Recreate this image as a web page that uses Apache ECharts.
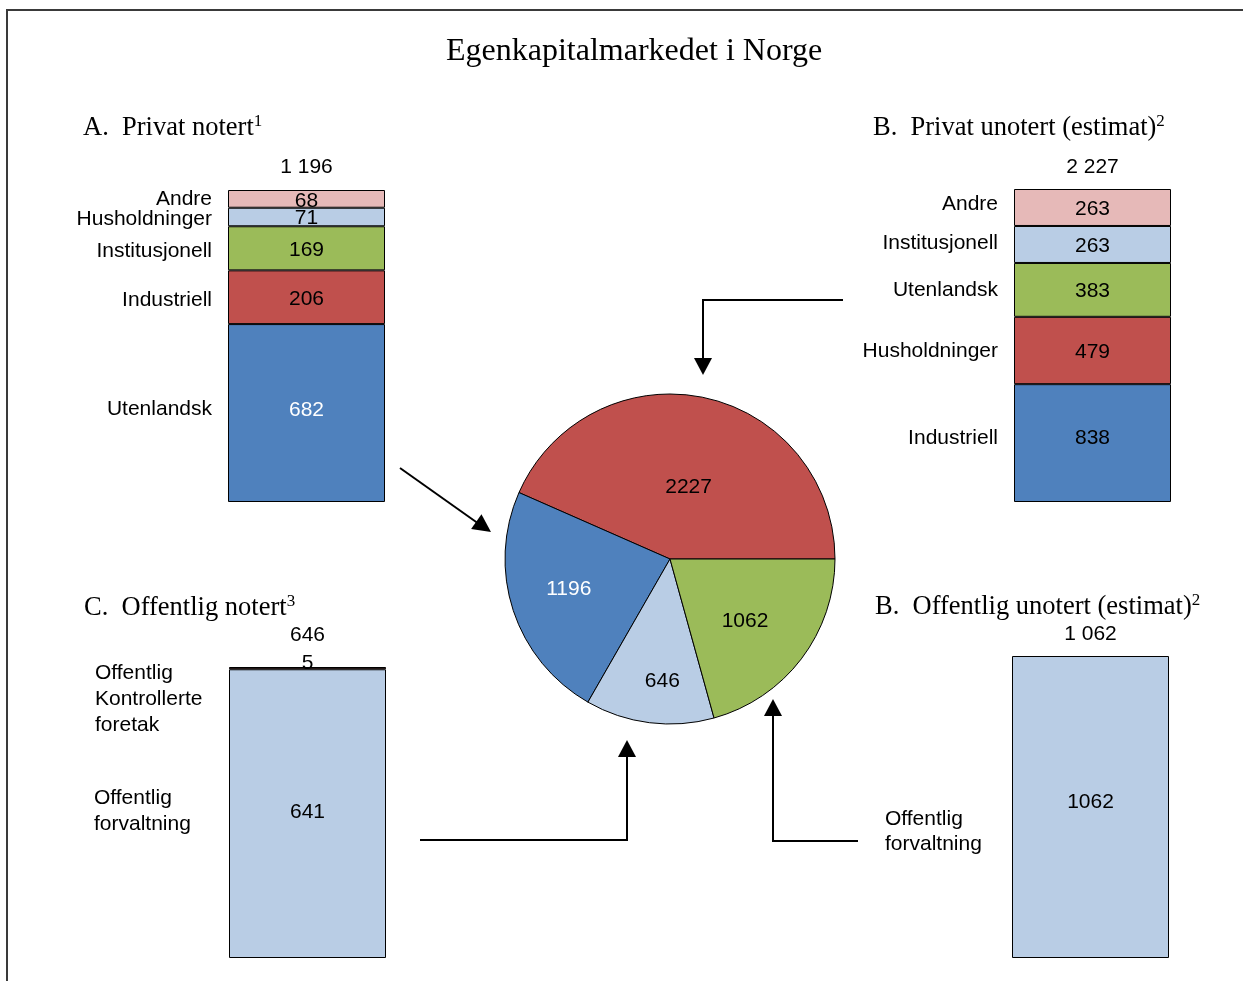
<!DOCTYPE html>
<html><head><meta charset="utf-8">
<script src="https://cdn.jsdelivr.net/npm/echarts@6/dist/echarts.min.js"></script>
<style>html,body{margin:0;padding:0;background:#fff}#c{width:1243px;height:981px}</style>
</head><body><div id="c"></div>
<script>
// ---------- DATA ----------
const mainTitle = 'Egenkapitalmarkedet i Norge';

const aTitle = 'A.  Privat notert';
const aNote = '1';
const aNames = ['Utenlandsk', 'Industriell', 'Institusjonell', 'Husholdninger', 'Andre'];
const aValues = [682, 206, 169, 71, 68];
const aTotal = '1 196';

const bTitle = 'B.  Privat unotert (estimat)';
const bNote = '2';
const bNames = ['Industriell', 'Husholdninger', 'Utenlandsk', 'Institusjonell', 'Andre'];
const bValues = [838, 479, 383, 263, 263];
const bTotal = '2 227';

const cTitle = 'C.  Offentlig notert';
const cNote = '3';
const cNames = ['Offentlig\nforvaltning', 'Offentlig\nKontrollerte\nforetak'];
const cValues = [641, 5];
const cTotal = '646';

const dTitle = 'B.  Offentlig unotert (estimat)';
const dNote = '2';
const dNames = ['Offentlig\nforvaltning'];
const dValues = [1062];
const dTotal = '1 062';

const pieNames = ['Privat unotert', 'Privat notert', 'Offentlig notert', 'Offentlig unotert'];
const pieValues = [2227, 1196, 646, 1062];

// ---------- STYLE ----------
const BLUE = '#4F81BD', RED = '#C0504D', GREEN = '#9BBB59', LBLUE = '#B9CDE5', PINK = '#E6B9B8', DARK = '#632523';
const SANS = "'Liberation Sans', Arial, sans-serif";
const SERIF = "'Liberation Serif', 'Times New Roman', serif";
const FS = 21;

const panels = [
  { title: aTitle, note: aNote, names: aNames, values: aValues, total: aTotal,
    grid: { left: 228, top: 190, width: 157, height: 312 },
    colors: [BLUE, RED, GREEN, LBLUE, PINK], valColors: ['#fff', '#000', '#000', '#000', '#000'],
    valOffsets: [[0, -3], [0, 2], [0, 2], [0, 1], [0, 2]],
    nameShift: [[0, -4], [0, 3], [0, 3], [0, 2], [0, 0]],
    totalMargin: 12, titlePos: { left: 83, top: 113 } },
  { title: bTitle, note: bNote, names: bNames, values: bValues, total: bTotal,
    grid: { left: 1014, top: 189, width: 157, height: 313 },
    colors: [BLUE, RED, GREEN, LBLUE, PINK], valColors: ['#000', '#000', '#000', '#000', '#000'],
    valOffsets: [[0, -5], [0, 2], [0, 1], [0, 2], [0, 2]],
    nameShift: [[0, -5], [0, 1], [0, 0], [0, -1], [0, -3]],
    totalMargin: 11, titlePos: { left: 873, top: 113 } },
  { title: cTitle, note: cNote, names: cNames, values: cValues, total: cTotal,
    grid: { left: 229, top: 667, width: 157, height: 291 },
    colors: [LBLUE, DARK], valColors: ['#000', '#000'], valOffsets: [[0, -1], [0, -5]],
    nameLabel: [{ position: [-135, 116], lineHeight: 26 }, { position: [-134, -7], lineHeight: 26 }],
    totalMargin: 21, titlePos: { left: 84, top: 593 } },
  { title: dTitle, note: dNote, names: dNames, values: dValues, total: dTotal,
    grid: { left: 1012, top: 656, width: 157, height: 302 },
    colors: [LBLUE], valColors: ['#000'], valOffsets: [[0, -5]],
    nameLabel: [{ position: [-127, 151], lineHeight: 25 }],
    totalMargin: 11, titlePos: { left: 875, top: 592 } }
];

const grids = [], xAxes = [], yAxes = [], series = [];
const titles = [{
  text: mainTitle, left: 446, top: 36, padding: 0,
  textStyle: { fontFamily: SERIF, fontSize: 32, fontWeight: 'normal', color: '#000' }
}];

panels.forEach((p, g) => {
  grids.push(Object.assign({ containLabel: false }, p.grid));
  const sum = p.values.reduce((s, v) => s + v, 0);
  xAxes.push({
    type: 'category', gridIndex: g, data: [p.total], position: 'top',
    axisLine: { show: false }, axisTick: { show: false }, splitLine: { show: false },
    axisLabel: { show: true, margin: p.totalMargin, fontFamily: SANS, fontSize: FS, color: '#000' }
  });
  yAxes.push({ type: 'value', gridIndex: g, min: 0, max: sum, show: false, splitLine: { show: false } });
  titles.push({
    text: '{m|' + p.title + '}{s|' + p.note + '}',
    left: p.titlePos.left, top: p.titlePos.top, padding: 0,
    textStyle: {
      fontWeight: 'normal',
      rich: {
        m: { fontFamily: SERIF, fontSize: 26.5, fontWeight: 'normal', color: '#000', lineHeight: 30 },
        s: { fontFamily: SERIF, fontSize: 17, fontWeight: 'normal', color: '#000', lineHeight: 17, verticalAlign: 'top' }
      }
    }
  });
  // value stack
  p.values.forEach((v, i) => {
    series.push({
      type: 'bar', name: p.names[i], xAxisIndex: g, yAxisIndex: g, stack: 'val' + g,
      barCategoryGap: '0%', barGap: '-100%', data: [v], silent: true,
      itemStyle: { color: p.colors[i], borderColor: '#000', borderWidth: 1 },
      label: {
        show: true, position: 'inside', fontFamily: SANS, fontSize: FS, color: p.valColors[i],
        offset: p.valOffsets ? p.valOffsets[i] : [0, 0]
      }
    });
  });
  // name stack (transparent, same geometry) to carry category names
  p.values.forEach((v, i) => {
    const nl = p.nameLabel ? p.nameLabel[i] : null;
    series.push({
      type: 'bar', name: p.names[i] + ' ', xAxisIndex: g, yAxisIndex: g, stack: 'name' + g,
      barCategoryGap: '0%', barGap: '-100%', data: [v], silent: true,
      itemStyle: { color: 'rgba(0,0,0,0)', borderWidth: 0 },
      label: nl ? {
        show: true, position: nl.position, align: 'left', verticalAlign: 'top', lineHeight: nl.lineHeight,
        fontFamily: SANS, fontSize: FS, color: '#000', formatter: p.names[i]
      } : {
        show: true, position: 'left', distance: 16, fontFamily: SANS, fontSize: FS, color: '#000',
        formatter: p.names[i], offset: p.nameShift ? p.nameShift[i] : [0, 0]
      }
    });
  });
});

const pieColors = [RED, BLUE, LBLUE, GREEN];
const pieLabelColors = ['#000', '#fff', '#000', '#000'];
const pieLabelShift = [[1, 12], [-20, 3], [3, 37], [7, 10]];
series.push({
  type: 'pie', center: [670, 559], radius: 165, startAngle: 0, clockwise: false,
  silent: true, avoidLabelOverlap: false,
  data: pieValues.map((v, i) => ({
    name: pieNames[i], value: v,
    itemStyle: { color: pieColors[i] },
    label: { color: pieLabelColors[i] }
  })),
  itemStyle: { borderColor: '#000', borderWidth: 1 },
  label: { show: true, position: 'inside', formatter: '{c}', fontFamily: SANS, fontSize: FS },
  labelLine: { show: false },
  labelLayout: (params) => ({ dx: pieLabelShift[params.dataIndex][0], dy: pieLabelShift[params.dataIndex][1] })
});

// ---------- annotations (frame & arrows) ----------
const LW = 2;
function head(tip, dir, len, hw) {
  const [tx, ty] = tip, [dx, dy] = dir;
  const l = Math.hypot(dx, dy), ux = dx / l, uy = dy / l;
  const bx = tx - ux * len, by = ty - uy * len;
  return { type: 'polygon', shape: { points: [[tx, ty], [bx - uy * hw, by + ux * hw], [bx + uy * hw, by - ux * hw]] }, style: { fill: '#000' } };
}
const line = (pts) => ({ type: 'polyline', shape: { points: pts }, style: { stroke: '#000', lineWidth: LW, fill: null } });
const graphics = [
  { type: 'polyline', shape: { points: [[1243, 10], [7, 10], [7, 981]] }, style: { stroke: '#3a3a3a', lineWidth: 2, fill: null } },
  line([[400, 468], [479, 524]]), head([491, 532], [91, 64], 18, 9),
  line([[420, 840], [627, 840], [627, 754]]), head([627, 740], [0, -1], 17, 9),
  line([[858, 841], [773, 841], [773, 713]]), head([773, 699], [0, -1], 17, 9),
  line([[843, 300], [703, 300], [703, 361]]), head([703, 375], [0, 1], 17, 9)
];

const chart = echarts.init(document.getElementById('c'), null, { renderer: 'canvas' });
chart.setOption({
  animation: false,
  backgroundColor: '#fff',
  title: titles,
  grid: grids,
  xAxis: xAxes,
  yAxis: yAxes,
  series: series,
  graphic: graphics
});
</script>
</body></html>
